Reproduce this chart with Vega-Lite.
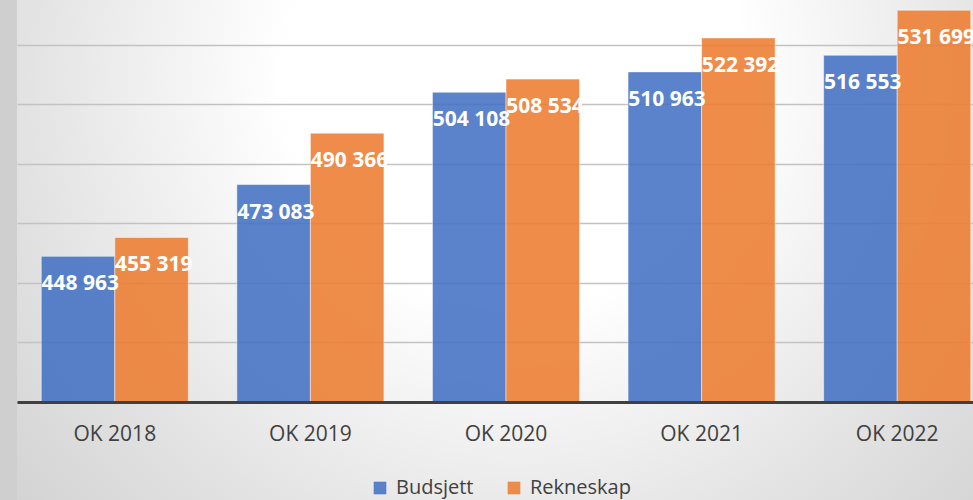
{
  "$schema": "https://vega.github.io/schema/vega-lite/v6.json",
  "width": 956,
  "height": 500,
  "autosize": {"type": "none"},
  "padding": {"left": 17, "top": 0, "right": 0, "bottom": 0},
  "background": "#cfcfcf",
  "config": {
    "view": {
      "stroke": null,
      "fill": {
        "gradient": "radial",
        "x1": 0.52, "y1": 0.32, "x2": 0.52, "y2": 0.32,
        "r1": 0, "r2": 0.8,
        "stops": [
          {"offset": 0, "color": "#ffffff"},
          {"offset": 0.3, "color": "#ffffff"},
          {"offset": 0.65, "color": "#e2e2e2"},
          {"offset": 1, "color": "#c9c9c9"}
        ]
      }
    },
    "font": "Open Sans"
  },
  "data": {
    "values": [
      {"ar": "OK 2018", "serie": "Budsjett", "verdi": 448963, "tekst": "448 963"},
      {"ar": "OK 2018", "serie": "Rekneskap", "verdi": 455319, "tekst": "455 319"},
      {"ar": "OK 2019", "serie": "Budsjett", "verdi": 473083, "tekst": "473 083"},
      {"ar": "OK 2019", "serie": "Rekneskap", "verdi": 490366, "tekst": "490 366"},
      {"ar": "OK 2020", "serie": "Budsjett", "verdi": 504108, "tekst": "504 108"},
      {"ar": "OK 2020", "serie": "Rekneskap", "verdi": 508534, "tekst": "508 534"},
      {"ar": "OK 2021", "serie": "Budsjett", "verdi": 510963, "tekst": "510 963"},
      {"ar": "OK 2021", "serie": "Rekneskap", "verdi": 522392, "tekst": "522 392"},
      {"ar": "OK 2022", "serie": "Budsjett", "verdi": 516553, "tekst": "516 553"},
      {"ar": "OK 2022", "serie": "Rekneskap", "verdi": 531699, "tekst": "531 699"}
    ]
  },
  "encoding": {
    "x": {
      "field": "ar", "type": "nominal", "sort": null,
      "scale": {"range": [0, 978], "paddingInner": 0.248, "paddingOuter": 0.124},
      "axis": {
        "title": null, "orient": "bottom", "offset": -98, "labelAngle": 0,
        "domainColor": "#404040", "domainWidth": 3, "ticks": false,
        "labelPadding": 21, "labelFontSize": 21, "labelColor": "#404040",
        "labelFont": "Open Sans", "zindex": 1
      }
    },
    "xOffset": {
      "field": "serie", "type": "nominal",
      "scale": {"paddingInner": 0, "paddingOuter": 0}
    },
    "y": {
      "field": "verdi", "type": "quantitative",
      "scale": {"domain": [400000, 535126], "range": [402, 0], "nice": false, "zero": false},
      "axis": {
        "title": null, "labels": false, "ticks": false, "domain": false,
        "grid": true, "gridColor": "#c2c2c2", "gridWidth": 1.5,
        "values": [400000, 420000, 440000, 460000, 480000, 500000, 520000]
      }
    }
  },
  "layer": [
    {
      "mark": {"type": "bar", "opacity": 0.88, "stroke": "#ffffff", "strokeOpacity": 0.5, "strokeWidth": 1},
      "encoding": {
        "y2": {"datum": 400000},
        "color": {
          "field": "serie", "type": "nominal",
          "scale": {"domain": ["Budsjett", "Rekneskap"], "range": ["#4472C4", "#ED7D31"]},
          "legend": {
            "title": null, "orient": "none", "direction": "horizontal",
            "legendX": 353, "legendY": 478, "padding": 0,
            "symbolType": "square", "symbolSize": 160, "symbolStrokeWidth": 0,
            "labelFontSize": 20, "labelColor": "#404040", "labelFont": "Open Sans",
            "labelOffset": 6, "columnPadding": 30
          }
        }
      }
    },
    {
      "mark": {
        "type": "text", "align": "left", "baseline": "middle",
        "dx": -36.5, "dy": 28, "fontSize": 21, "fontWeight": "bold",
        "color": "#ffffff", "font": "Open Sans"
      },
      "encoding": {
        "text": {"field": "tekst"}
      }
    }
  ]
}
